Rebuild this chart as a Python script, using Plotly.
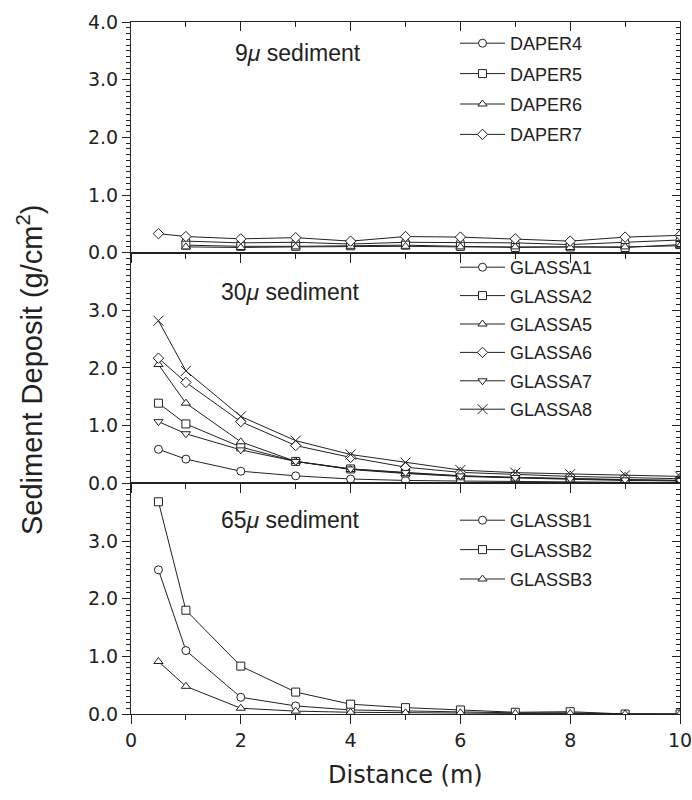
import plotly.graph_objects as go
from plotly.subplots import make_subplots

# Distance from the source (m)
distance = [0.5, 1, 2, 3, 4, 5, 6, 7, 8, 9, 10]

# 9 micron sediment (g/cm^2)
daper4 = [None, 0.20, 0.17, 0.18, 0.15, 0.18, 0.18, 0.17, 0.14, 0.18, 0.22]
daper5 = [None, 0.13, 0.11, 0.11, 0.12, 0.13, 0.11, 0.09, 0.10, 0.09, 0.14]
daper6 = [None, 0.10, 0.09, 0.10, 0.11, 0.11, 0.10, 0.10, 0.09, 0.10, 0.12]
daper7 = [0.33, 0.28, 0.24, 0.26, 0.20, 0.28, 0.27, 0.24, 0.20, 0.27, 0.30]

# 30 micron sediment (g/cm^2)
glassa1 = [0.59, 0.42, 0.21, 0.13, 0.075, 0.05, 0.04, 0.03, 0.02, 0.02, 0.01]
glassa2 = [1.39, 1.03, 0.63, 0.38, 0.25, 0.18, 0.13, 0.10, 0.08, 0.06, 0.05]
glassa5 = [2.06, 1.39, 0.72, 0.38, 0.24, 0.17, 0.12, 0.09, 0.07, 0.05, 0.04]
glassa6 = [2.17, 1.75, 1.07, 0.655, 0.45, 0.28, 0.19, 0.15, 0.12, 0.10, 0.08]
glassa7 = [1.07, 0.86, 0.58, 0.38, 0.25, 0.19, 0.13, 0.10, 0.08, 0.06, 0.05]
glassa8 = [2.82, 1.95, 1.16, 0.74, 0.50, 0.36, 0.23, 0.185, 0.16, 0.14, 0.12]

# 65 micron sediment (g/cm^2)
glassb1 = [2.50, 1.10, 0.29, 0.14, 0.07, 0.05, 0.04, 0.02, 0.02, 0.0, 0.0]
glassb2 = [3.68, 1.80, 0.83, 0.38, 0.17, 0.11, 0.07, 0.03, 0.04, 0.0, 0.0]
glassb3 = [0.91, 0.48, 0.10, 0.05, 0.03, 0.02, 0.02, 0.01, 0.01, 0.0, 0.0]

panel_titles = ["9<i>μ</i> sediment", "30<i>μ</i> sediment", "65<i>μ</i> sediment"]

panels = [
    [("DAPER4", daper4, "circle"), ("DAPER5", daper5, "square"),
     ("DAPER6", daper6, "triangle-up"), ("DAPER7", daper7, "diamond")],
    [("GLASSA1", glassa1, "circle"), ("GLASSA2", glassa2, "square"),
     ("GLASSA5", glassa5, "triangle-up"), ("GLASSA6", glassa6, "diamond"),
     ("GLASSA7", glassa7, "triangle-down"), ("GLASSA8", glassa8, "x-thin")],
    [("GLASSB1", glassb1, "circle"), ("GLASSB2", glassb2, "square"),
     ("GLASSB3", glassb3, "triangle-up")],
]

INK = "#222222"
FONT = "Liberation Sans"
NUMFONT = "DejaVu Sans"

fig = make_subplots(rows=3, cols=1, shared_xaxes=True, vertical_spacing=0)

legend_names = ["legend", "legend2", "legend3"]
for row, series in enumerate(panels, start=1):
    for name, vals, sym in series:
        xs = [d for d, v in zip(distance, vals) if v is not None]
        ys = [v for v in vals if v is not None]
        is_x = sym.startswith("x")
        fig.add_trace(
            go.Scatter(
                x=xs, y=ys, name=name, mode="lines+markers",
                line=dict(color=INK, width=1),
                marker=dict(symbol=sym, size=8 if not is_x else 10,
                            color="white" if not is_x else INK,
                            line=dict(color=INK, width=1)),
                legend=legend_names[row - 1], legendgroup=name,
            ),
            row=row, col=1,
        )

# Plot frame geometry in pixels
W, H = 692, 800
L, R, T, B = 131, 12, 22, 86
pw, ph = W - L - R, H - T - B


def px_x(p):
    return (p - L) / pw


def px_y(p):
    return 1 - (p - T) / ph


tickfont = dict(family=NUMFONT, size=19, color=INK)

for i in range(1, 4):
    yk = "yaxis" if i == 1 else f"yaxis{i}"
    xk = "xaxis" if i == 1 else f"xaxis{i}"
    tv = [0, 1, 2, 3, 4] if i == 1 else [0, 1, 2, 3]
    fig.layout[yk].update(
        range=[0, 4], tickvals=tv, tickformat=".1f", ticks="outside",
        ticklen=8, tickwidth=1, tickcolor=INK, showgrid=False, zeroline=False,
        showline=True, linecolor=INK, linewidth=1, mirror=True,
        tickfont=tickfont, automargin=False,
        minor=dict(dtick=0.1, ticks="outside", ticklen=4, tickcolor=INK, tickwidth=1),
    )
    fig.layout[xk].update(
        range=[0, 10], dtick=2, ticks="outside", ticklen=9, tickwidth=1,
        tickcolor=INK, showgrid=False, zeroline=False, showline=True,
        linecolor=INK, linewidth=1, mirror=True, tickfont=tickfont,
        ticklabeloverflow="allow", automargin=False,
        minor=dict(dtick=1, ticks="outside", ticklen=5, tickcolor=INK, tickwidth=1),
    )

# Inward ticks on the right edge of every panel
for i in range(1, 4):
    base = "y" if i == 1 else f"y{i}"
    xa = "x" if i == 1 else f"x{i}"
    tv = [0, 1, 2, 3, 4] if i == 1 else [0, 1, 2, 3]
    fig.layout[f"yaxis{i + 3}"] = dict(
        overlaying=base, side="right", anchor=xa, range=[0, 4], tickvals=tv,
        ticks="inside", ticklen=8, tickcolor=INK, showticklabels=False,
        showgrid=False, zeroline=False, showline=False, automargin=False,
        minor=dict(dtick=0.1, ticks="inside", ticklen=4, tickcolor=INK),
    )
    fig.add_trace(go.Scatter(x=[], y=[], xaxis=xa, yaxis=f"y{i + 3}",
                             showlegend=False, hoverinfo="skip"))

# Inward ticks along the top edge
fig.layout["xaxis4"] = dict(
    overlaying="x", side="top", anchor="y", range=[0, 10], dtick=2,
    ticks="inside", ticklen=9, tickcolor=INK, showticklabels=False,
    showgrid=False, zeroline=False, showline=False, automargin=False,
    minor=dict(dtick=1, ticks="inside", ticklen=5, tickcolor=INK),
)
fig.add_trace(go.Scatter(x=[], y=[], xaxis="x4", yaxis="y",
                         showlegend=False, hoverinfo="skip"))

legend_tops = [25, 249, 502]
legend_gaps = [4, 2, 3]
for ln, top, gap in zip(legend_names, legend_tops, legend_gaps):
    fig.layout[ln] = dict(
        x=px_x(455), y=px_y(top), xanchor="left", yanchor="top",
        bgcolor="rgba(0,0,0,0)", font=dict(family=FONT, size=18, color=INK),
        tracegroupgap=gap, traceorder="grouped", itemwidth=45,
    )

title_pos = [(298, 53), (290, 292), (290, 520)]
for txt, (tx, ty) in zip(panel_titles, title_pos):
    fig.add_annotation(text=txt, x=px_x(tx), y=px_y(ty), xref="paper", yref="paper",
                       xanchor="center", yanchor="middle", showarrow=False,
                       font=dict(family=FONT, size=23, color=INK))

fig.add_annotation(text="Sediment Deposit (g/cm<sup>2</sup>)", x=px_x(30), y=px_y(370),
                   xref="paper", yref="paper", textangle=-90, showarrow=False,
                   xanchor="center", yanchor="middle",
                   font=dict(family=FONT, size=29, color=INK))
fig.add_annotation(text="Distance (m)", x=px_x(405), y=px_y(775),
                   xref="paper", yref="paper", showarrow=False,
                   xanchor="center", yanchor="middle",
                   font=dict(family=NUMFONT, size=24, color=INK))

fig.update_layout(
    width=W, height=H, margin=dict(l=L, r=R, t=T, b=B, autoexpand=False),
    paper_bgcolor="white", plot_bgcolor="white", showlegend=True,
)

fig.write_html("out.html")
